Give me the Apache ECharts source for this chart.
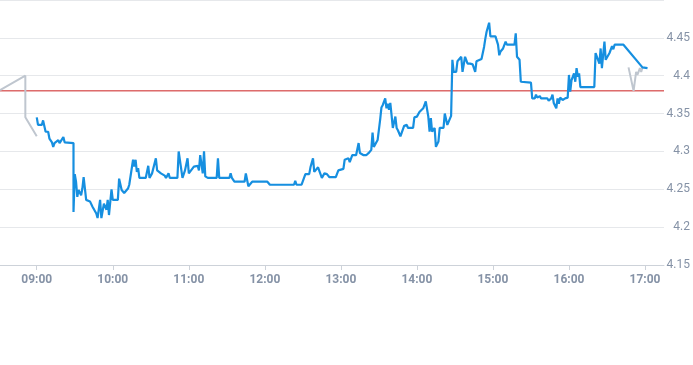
<!DOCTYPE html>
<html>
<head>
<meta charset="utf-8">
<style>
  html, body { margin: 0; padding: 0; background: #ffffff; }
  #chart { width: 693px; height: 365px; }
</style>
<script src="https://cdn.jsdelivr.net/npm/echarts@6/dist/echarts.min.js"></script>
</head>
<body>
<div id="chart"></div>
<script>
// ---- data ----
const preTimes  = ["08:31", "08:51", "08:51", "09:00"];
const preValues = [4.381, 4.400, 4.345, 4.320];

const times = [
  "09:00","09:01","09:04","09:05","09:06","09:07","09:08","09:09","09:10","09:12",
  "09:13","09:14","09:15","09:17","09:18","09:21","09:22","09:29","09:29","09:30",
  "09:31","09:32","09:33","09:35","09:36","09:37","09:39","09:42","09:44","09:47",
  "09:48","09:50","09:51","09:53","09:55","09:56","09:57","09:59","10:00","10:04",
  "10:05","10:07","10:09","10:12","10:13","10:16","10:17","10:18","10:19","10:20",
  "10:21","10:26","10:28","10:29","10:31","10:34","10:35","10:38","10:41","10:42",
  "10:44","10:45","10:51","10:52","10:55","10:57","10:59","11:00","11:04","11:07",
  "11:08","11:09","11:11","11:12","11:13","11:15","11:22","11:23","11:24","11:32",
  "11:33","11:34","11:36","11:44","11:45","11:47","11:50","12:02","12:04","12:23",
  "12:24","12:25","12:29","12:32","12:35","12:36","12:38","12:39","12:42","12:45",
  "12:47","12:49","12:51","12:56","12:58","13:02","13:03","13:06","13:07","13:09",
  "13:12","13:14","13:15","13:18","13:20","13:22","13:24","13:25","13:26","13:27",
  "13:29","13:31","13:32","13:33","13:35","13:36","13:37","13:38","13:39","13:40",
  "13:41","13:43","13:44","13:45","13:47","13:48","13:50","13:52","13:53","13:57",
  "13:58","14:00","14:02","14:05","14:07","14:08","14:09","14:10","14:11","14:12",
  "14:14","14:15","14:17","14:18","14:21","14:22","14:24","14:25","14:27","14:28",
  "14:29","14:31","14:32","14:35","14:36","14:38","14:40","14:42","14:44","14:46",
  "14:47","14:48","14:51","14:53","14:54","14:55","14:57","14:58","15:02","15:04",
  "15:05","15:06","15:07","15:08","15:09","15:10","15:11","15:17","15:18","15:19",
  "15:21","15:22","15:30","15:31","15:33","15:34","15:35","15:37","15:38","15:43",
  "15:44","15:46","15:47","15:48","15:50","15:51","15:52","15:53","15:55","15:57",
  "15:59","16:00","16:01","16:02","16:04","16:05","16:06","16:07","16:08","16:09",
  "16:20","16:21","16:22","16:24","16:25","16:26","16:28","16:29","16:30","16:32",
  "16:34","16:35","16:36","16:38","16:43","16:58","16:59","17:02"
];
const values = [
  4.345,4.335,4.335,4.341,4.341,4.326,4.324,4.326,4.317,4.312,
  4.306,4.311,4.313,4.315,4.311,4.319,4.312,4.311,4.220,4.270,
  4.260,4.240,4.249,4.242,4.251,4.266,4.236,4.234,4.227,4.218,
  4.212,4.236,4.212,4.231,4.223,4.236,4.216,4.250,4.236,4.236,
  4.264,4.249,4.245,4.251,4.256,4.289,4.280,4.289,4.273,4.278,
  4.265,4.265,4.281,4.265,4.271,4.291,4.275,4.271,4.268,4.265,
  4.271,4.265,4.265,4.300,4.265,4.275,4.291,4.271,4.280,4.281,
  4.275,4.295,4.271,4.300,4.267,4.265,4.265,4.291,4.265,4.265,
  4.271,4.265,4.260,4.260,4.271,4.254,4.260,4.260,4.256,4.256,
  4.261,4.256,4.256,4.270,4.270,4.279,4.291,4.273,4.279,4.265,
  4.271,4.270,4.266,4.266,4.275,4.277,4.289,4.291,4.286,4.295,
  4.295,4.311,4.298,4.295,4.295,4.298,4.302,4.325,4.306,4.305,
  4.315,4.342,4.358,4.361,4.370,4.357,4.363,4.355,4.364,4.348,
  4.331,4.346,4.331,4.328,4.320,4.322,4.334,4.335,4.331,4.331,
  4.345,4.346,4.352,4.357,4.366,4.364,4.346,4.326,4.344,4.326,
  4.331,4.306,4.313,4.331,4.331,4.350,4.335,4.339,4.347,4.421,
  4.405,4.405,4.419,4.425,4.405,4.425,4.416,4.416,4.415,4.405,
  4.419,4.421,4.422,4.438,4.449,4.458,4.470,4.452,4.452,4.441,
  4.427,4.432,4.430,4.436,4.434,4.445,4.441,4.441,4.456,4.425,
  4.421,4.392,4.391,4.370,4.370,4.375,4.371,4.373,4.370,4.370,
  4.367,4.370,4.375,4.364,4.357,4.370,4.363,4.371,4.368,4.370,
  4.371,4.401,4.379,4.394,4.403,4.392,4.410,4.399,4.403,4.385,
  4.385,4.430,4.430,4.416,4.436,4.410,4.445,4.421,4.419,4.430,
  4.439,4.435,4.441,4.441,4.441,4.411,4.410,4.410
];

const postTimes  = ["16:47","16:51","16:53","16:54","16:56","16:57","16:58"];
const postValues = [4.411, 4.380, 4.405, 4.401, 4.410, 4.405, 4.411];

const refValue = 4.38;
const xTickLabels = ["09:00","10:00","11:00","12:00","13:00","14:00","15:00","16:00","17:00"];
const xStart = "08:31";
const xEnd = "17:15";
const yMin = 4.15, yMax = 4.5, yStep = 0.05;

// ---- helpers ----
function toMin(s) { const p = s.split(":"); return (+p[0]) * 60 + (+p[1]); }
function toLabel(m) {
  const h = Math.floor(m / 60), mm = Math.round(m - h * 60);
  return (h < 10 ? "0" : "") + h + ":" + (mm < 10 ? "0" : "") + mm;
}
function pairs(ts, vs) { return ts.map((t, i) => [toMin(t), vs[i]]); }

const tickVals = xTickLabels.map(toMin);
const axisColor = "#cdd2d9";
const labelColor = "#8592a6";

const chart = echarts.init(document.getElementById("chart"), null, { renderer: "canvas" });
chart.setOption({
  animation: false,
  backgroundColor: "#ffffff",
  grid: { left: 0, right: 27, top: 0, bottom: 100, containLabel: false },
  xAxis: {
    type: "value",
    min: toMin(xStart),
    max: toMin(xEnd),
    axisLine: { show: true, lineStyle: { color: axisColor, width: 1 } },
    axisTick: { show: true, customValues: tickVals, length: 5, lineStyle: { color: axisColor } },
    axisLabel: {
      customValues: tickVals,
      formatter: v => toLabel(v),
      color: labelColor, fontSize: 12, fontWeight: "bold",
      fontFamily: "Roboto, 'Noto Sans', sans-serif", margin: 9
    },
    splitLine: { show: false }
  },
  yAxis: {
    type: "value",
    position: "right",
    min: yMin, max: yMax, interval: yStep,
    axisLine: { show: false },
    axisTick: { show: false },
    axisLabel: {
      showMaxLabel: false,
      color: labelColor, fontSize: 12,
      fontFamily: "Roboto, 'Noto Sans', sans-serif",
      align: "right", margin: 26
    },
    splitLine: { show: true, lineStyle: { color: "#e6e8eb", width: 1 } }
  },
  series: [
    {
      type: "line", data: [[toMin(xStart), refValue], [toMin(xEnd), refValue]],
      showSymbol: false, silent: true,
      lineStyle: { color: "#cc1f1f", width: 1 }, z: 1
    },
    {
      type: "line", data: pairs(preTimes, preValues), showSymbol: false,
      lineStyle: { color: "#bfc6cf", width: 2 }, z: 2
    },
    {
      type: "line", data: pairs(postTimes, postValues), showSymbol: false,
      lineStyle: { color: "#bfc6cf", width: 2 }, z: 2
    },
    {
      type: "line", data: pairs(times, values), showSymbol: false,
      lineStyle: { color: "#168fe0", width: 2.2 }, z: 3
    }
  ]
});
</script>
</body>
</html>
